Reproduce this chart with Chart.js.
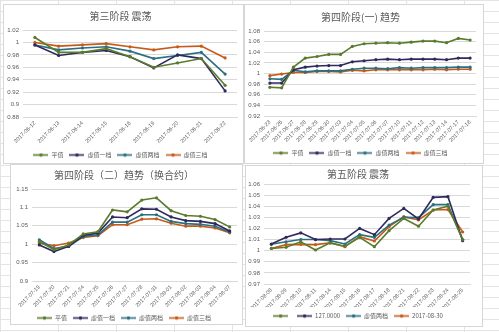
<!DOCTYPE html>
<html>
<head>
<meta charset="utf-8">
<script src="https://cdn.jsdelivr.net/npm/chart.js@4.4.0/dist/chart.umd.min.js"></script>
<style>
  html, body { margin: 0; padding: 0; }
  body {
    width: 499px; height: 332px; position: relative; overflow: hidden;
    background-color: #fff;
    background-image: linear-gradient(#e4e4e4 1px, transparent 1px), linear-gradient(90deg, #e4e4e4 1px, transparent 1px);
    background-size: 58px 11px;
  }
  .box { position: absolute; background: #fff; outline: 1px solid #d6d6d6; }
  .box canvas { display: block; }
</style>
</head>
<body>
<div class="box" style="left:4px;top:5px;width:239px;height:158px"><canvas id="c1" width="239" height="158"></canvas></div>
<div class="box" style="left:245px;top:5px;width:238px;height:158px"><canvas id="c2" width="238" height="158"></canvas></div>
<div class="box" style="left:11px;top:165px;width:231px;height:159px"><canvas id="c3" width="231" height="159"></canvas></div>
<div class="box" style="left:246px;top:166px;width:236px;height:160px"><canvas id="c4" width="236" height="160"></canvas></div>

<script>
// ============================
// DATA
// ============================
const seriesNames = ["平值", "虚值一档", "虚值两档", "虚值三档"];
const seriesNames5 = ["", "127.0000", "虚值两档", "2017-08-30"];
const colors = ["#5b7b2c", "#2f2a5c", "#2b6f80", "#c55b1b"];

// 第三阶段 震荡
const dates3 = ["2017-06-12", "2017-06-13", "2017-06-14", "2017-06-15", "2017-06-16", "2017-06-19", "2017-06-20", "2017-06-21", "2017-06-22"];
const flat3 = [1.008, 0.984, 0.984, 0.990, 0.977, 0.960, 0.967, 0.974, 0.931];
const otm1_3 = [0.996, 0.979, 0.984, 0.987, 0.977, 0.959, 0.980, 0.974, 0.922];
const otm2_3 = [0.996, 0.988, 0.991, 0.993, 0.986, 0.974, 0.979, 0.984, 0.949];
const otm3_3 = [1.000, 0.994, 0.996, 0.998, 0.993, 0.988, 0.993, 0.994, 0.975];

// 第四阶段(一) 趋势
const dates4a = ["2017-06-23", "2017-06-26", "2017-06-27", "2017-06-28", "2017-06-29", "2017-06-30", "2017-07-03", "2017-07-04", "2017-07-05",
  "2017-07-06", "2017-07-07", "2017-07-10", "2017-07-11", "2017-07-12", "2017-07-13", "2017-07-14", "2017-07-17", "2017-07-18"];
const flat4a = [0.974, 0.973, 1.012, 1.029, 1.032, 1.036, 1.036, 1.051, 1.056, 1.057, 1.058, 1.057, 1.059, 1.061, 1.061, 1.058, 1.066, 1.063];
const otm1_4a = [0.982, 0.982, 1.007, 1.012, 1.014, 1.015, 1.015, 1.022, 1.024, 1.026, 1.027, 1.026, 1.027, 1.027, 1.027, 1.026, 1.029, 1.029];
const otm2_4a = [0.990, 0.989, 1.006, 1.003, 1.005, 1.005, 1.005, 1.008, 1.010, 1.010, 1.009, 1.011, 1.010, 1.011, 1.011, 1.011, 1.012, 1.012];
const otm3_4a = [0.996, 0.999, 1.002, 1.002, 1.004, 1.004, 1.003, 1.006, 1.005, 1.007, 1.007, 1.007, 1.007, 1.007, 1.008, 1.007, 1.008, 1.008];

// 第四阶段（二）趋势（换合约）
const dates4b = ["2017-07-19", "2017-07-20", "2017-07-21", "2017-07-24", "2017-07-25", "2017-07-26", "2017-07-27", "2017-07-28", "2017-07-31",
  "2017-08-01", "2017-08-02", "2017-08-03", "2017-08-04", "2017-08-07"];
const flat4b = [1.007, 0.985, 0.998, 1.028, 1.034, 1.093, 1.088, 1.120, 1.126, 1.091, 1.078, 1.076, 1.067, 1.047];
const otm1_4b = [0.998, 0.980, 0.994, 1.024, 1.030, 1.074, 1.072, 1.096, 1.095, 1.074, 1.064, 1.062, 1.056, 1.036];
const otm2_4b = [1.012, 0.988, 0.994, 1.021, 1.025, 1.060, 1.060, 1.080, 1.080, 1.062, 1.056, 1.054, 1.049, 1.033];
const otm3_4b = [1.003, 0.996, 1.003, 1.018, 1.023, 1.053, 1.053, 1.068, 1.069, 1.057, 1.049, 1.049, 1.044, 1.031];

// 第五阶段 震荡
const dates5 = ["2017-08-08", "2017-08-09", "2017-08-10", "2017-08-11", "2017-08-14", "2017-08-15", "2017-08-16", "2017-08-17", "2017-08-18",
  "2017-08-21", "2017-08-22", "2017-08-23", "2017-08-24", "2017-08-25"];
const flat5 = [1.002, 1.003, 1.008, 1.0006, 1.007, 1.004, 1.012, 1.0036, 1.018, 1.029, 1.022, 1.0366, 1.040, 1.010];
const otm1_5 = [1.006, 1.012, 1.016, 1.010, 1.0105, 1.0105, 1.020, 1.0144, 1.029, 1.038, 1.0285, 1.048, 1.0486, 1.009];
const otm2_5 = [1.0057, 1.008, 1.010, 1.010, 1.009, 1.006, 1.0144, 1.012, 1.023, 1.030, 1.0297, 1.0414, 1.0414, 1.010];
const otm3_5 = [1.002, 1.0054, 1.0057, 1.0054, 1.007, 1.0036, 1.0126, 1.0087, 1.0216, 1.0306, 1.0276, 1.0366, 1.037, 1.0168];

// ============================
// HELPERS
// ============================
const TEXT = "#595959";
const GRID = "#d9d9d9";

// little "line with a dot" marker for legend items
function legendMarker(color) {
  const c = document.createElement("canvas");
  c.width = 15; c.height = 5;
  const g = c.getContext("2d");
  g.strokeStyle = color; g.lineWidth = 1.6;
  g.beginPath(); g.moveTo(0, 2.5); g.lineTo(15, 2.5); g.stroke();
  g.fillStyle = color;
  g.beginPath(); g.arc(7.5, 2.5, 1.8, 0, Math.PI * 2); g.fill();
  return c;
}
const markers = colors.map(legendMarker);

function makeChart(id, title, labels, series, names, y, geo) {
  new Chart(document.getElementById(id), {
    type: "line",
    data: {
      labels: labels,
      datasets: series.map((s, i) => ({
        label: names[i],
        data: s,
        borderColor: colors[i],
        backgroundColor: colors[i],
        borderWidth: 1.6,
        pointRadius: 1.6,
        pointBorderWidth: 0,
        pointBackgroundColor: colors[i],
        tension: 0,
      })),
    },
    options: {
      responsive: false,
      animation: false,
      layout: { padding: { left: 0, right: geo.padRight, top: 0, bottom: geo.padBottom } },
      plugins: {
        tooltip: { enabled: false },
        title: {
          display: true,
          text: title,
          color: TEXT,
          font: { family: "'Noto Sans CJK SC'", size: 10, weight: "normal" },
          padding: { top: geo.titleTop, bottom: geo.titleBottom },
        },
        legend: {
          position: "bottom",
          labels: {
            color: TEXT,
            font: { family: "'Noto Sans CJK SC'", size: 6 },
            usePointStyle: true,
            pointStyleWidth: 15,
            padding: 6,
            generateLabels: (chart) => {
              const items = Chart.defaults.plugins.legend.labels.generateLabels(chart);
              items.forEach((it, i) => { it.pointStyle = markers[i]; });
              return items;
            },
          },
        },
      },
      scales: {
        x: {
          offset: true,
          grid: { display: false, drawTicks: false },
          border: { display: true, color: GRID },
          ticks: {
            color: TEXT, autoSkip: false, maxRotation: 45, minRotation: 45, padding: 3,
            font: { family: "'Liberation Sans'", size: 5.5 },
          },
          afterFit: (scale) => { scale.height = geo.xHeight; },
        },
        y: {
          min: y.min, max: y.max,
          grid: { color: GRID, drawTicks: false },
          border: { display: false },
          ticks: {
            stepSize: y.step, color: TEXT, padding: 4,
            font: { family: "'Liberation Sans'", size: 6 },
            callback: (v) => String(+v.toFixed(3)),
          },
          afterFit: (scale) => { scale.width = geo.yWidth; },
        },
      },
    },
  });
}

makeChart("c1", "第三阶段 震荡", dates3, [flat3, otm1_3, otm2_3, otm3_3], seriesNames,
  { min: 0.88, max: 1.02, step: 0.02 },
  { yWidth: 19, padRight: 6, titleTop: 5, titleBottom: 8, xHeight: 29, padBottom: -5 });

makeChart("c2", "第四阶段(一) 趋势", dates4a, [flat4a, otm1_4a, otm2_4a, otm3_4a], seriesNames,
  { min: 0.92, max: 1.08, step: 0.02 },
  { yWidth: 19, padRight: 7, titleTop: 6, titleBottom: 8, xHeight: 28, padBottom: -3 });

makeChart("c3", "第四阶段（二）趋势（换合约）", dates4b, [flat4b, otm1_4b, otm2_4b, otm3_4b], seriesNames,
  { min: 0.9, max: 1.15, step: 0.05 },
  { yWidth: 21, padRight: 5, titleTop: 4, titleBottom: 8, xHeight: 28, padBottom: -7 });

makeChart("c4", "第五阶段 震荡", dates5, [flat5, otm1_5, otm2_5, otm3_5], seriesNames5,
  { min: 0.97, max: 1.06, step: 0.01 },
  { yWidth: 18, padRight: 12, titleTop: 2, titleBottom: 4, xHeight: 23, padBottom: -3 });
</script>
</body>
</html>
